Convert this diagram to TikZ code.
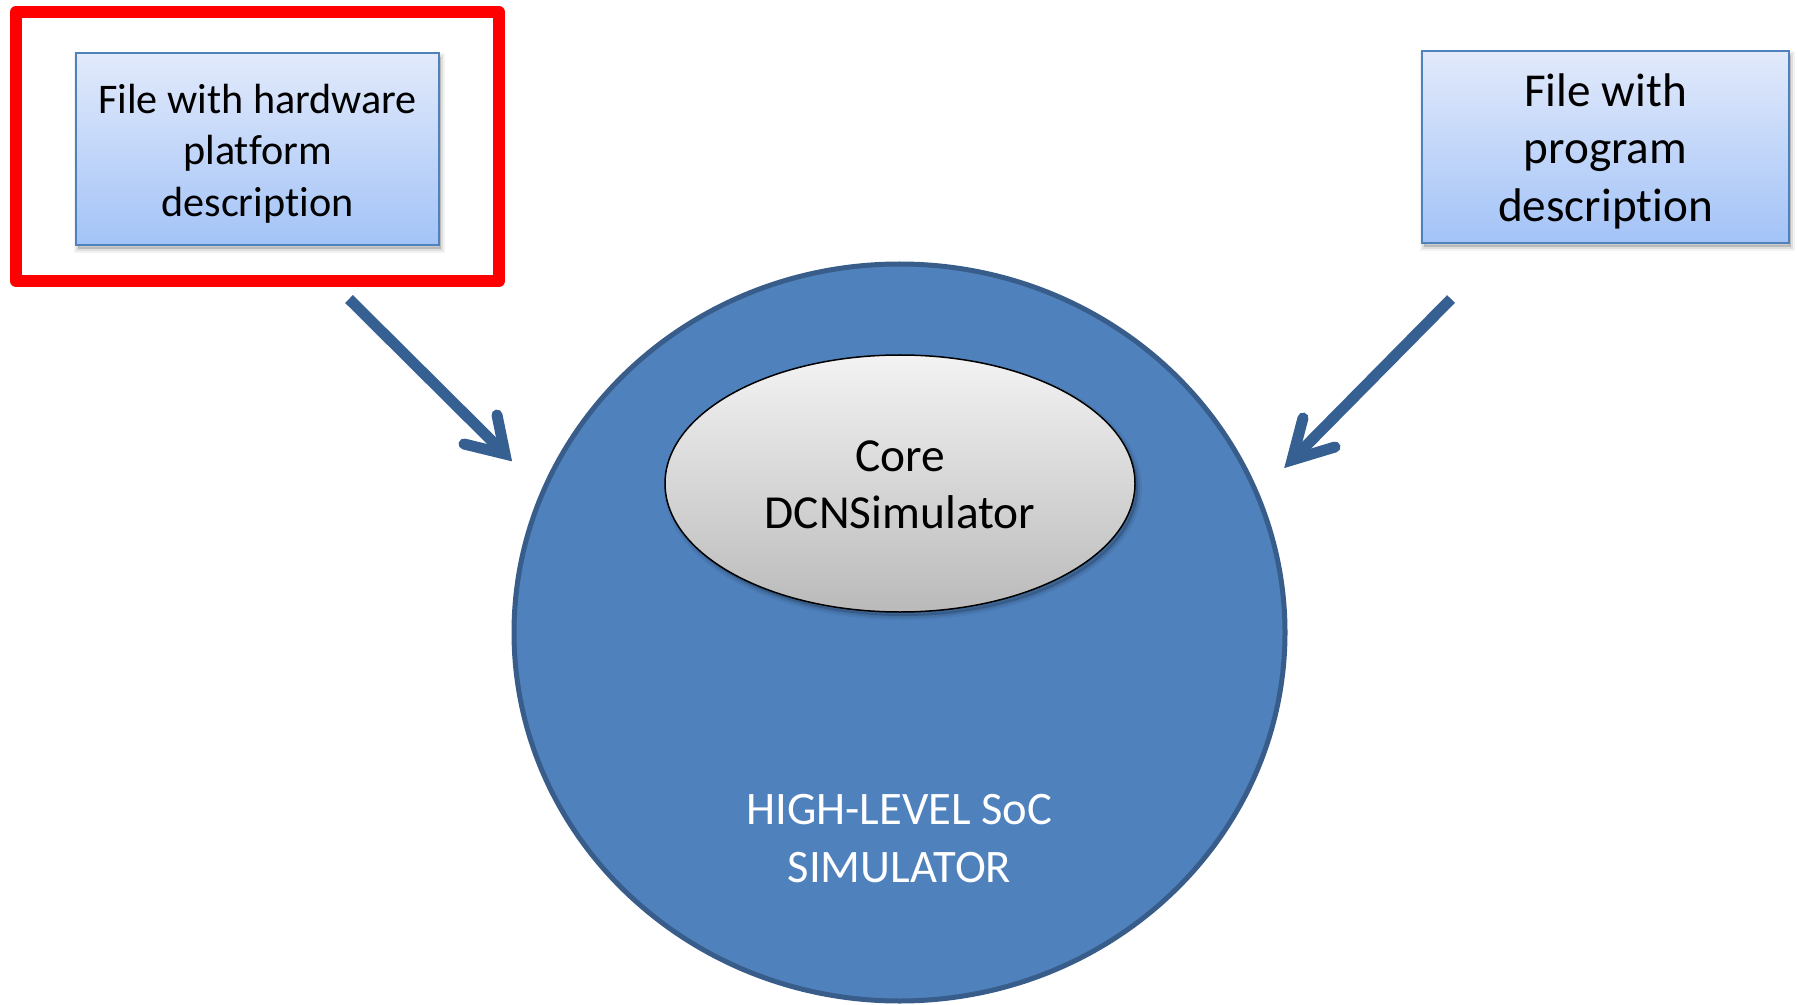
\documentclass[tikz,border=0pt]{standalone}
\usepackage{fontspec}
\setmainfont{Carlito}[Ligatures=NoCommon, Contextuals=NoAlternate]
\usetikzlibrary{shapes.geometric}

\definecolor{socfill}{RGB}{79,129,189}
\definecolor{socedge}{RGB}{56,93,138}
\definecolor{flowarrow}{RGB}{55,96,146}
\definecolor{filetop}{RGB}{226,234,251}
\definecolor{filebottom}{RGB}{163,195,247}
\definecolor{fileedge}{RGB}{79,129,189}
\definecolor{coretop}{RGB}{243,243,243}
\definecolor{corebottom}{RGB}{186,186,186}
\definecolor{markred}{RGB}{255,0,0}

\tikzset{
  % soft drop shadow built from a few translucent layers
  softshadow/.style 2 args={
    preaction={draw=black, draw opacity=0.05, line width=4pt,
      fill=black, fill opacity=0.05,
      transform canvas={xshift=#1, yshift=#2}},
    preaction={draw=black, draw opacity=0.08, line width=2pt,
      transform canvas={xshift=#1, yshift=#2}},
    preaction={fill=black, fill opacity=0.12,
      transform canvas={xshift=#1, yshift=#2}}
  },
  filebox/.style={rectangle, draw=fileedge, line width=1pt,
    top color=filetop, bottom color=filebottom,
    inner sep=0pt, outer sep=0pt,
    minimum height=96pt, softshadow={1pt}{-2pt}},
  filetext/.style={align=center, text=black, inner sep=0pt},
  socbody/.style={ellipse, draw=socedge, fill=socfill, line width=2.5pt,
    minimum width=385.5pt, minimum height=368.5pt, inner sep=0pt},
  corebox/.style={ellipse, draw=black, line width=0.75pt,
    top color=coretop, bottom color=corebottom,
    minimum width=235pt, minimum height=128.5pt, inner sep=0pt,
    softshadow={1.5pt}{-2pt}},
  coretext/.style={align=center, text=black, inner sep=0pt,
    font=\fontsize{23.7}{28.5}\selectfont},
  soclabel/.style={align=center, text=white, inner sep=0pt,
    font=\fontsize{23.3}{28.8}\selectfont},
  highlight/.style={rectangle, draw=markred, line width=6pt, line join=round,
    minimum width=241.5pt, minimum height=134.5pt, inner sep=0pt},
  flowshaft/.style={draw=flowarrow, line width=5.5pt, line cap=butt},
  flowhead/.style={draw=flowarrow, line width=5.5pt, line cap=round,
    line join=miter},
}

\begin{document}
\begin{tikzpicture}[x=0.5pt, y=-0.5pt]
  \useasboundingbox (0,0) rectangle (1798,1005);

  % simulator body with its core
  \node[socbody] (soc) at (899.5,632.5) {};
  \node[corebox] (core) at (900,483.5) {};
  \node[coretext] (coretxt) at (900,485) {Core\\DCNSimulator};
  \node[soclabel] (soctext) at (899.5,838.5) {HIGH-LEVEL SoC\\SIMULATOR};

  % input description files
  \node[highlight] (hwmark) at (257.5,146.5) {};
  \node[filebox, minimum width=181.5pt] (hwfile) at (257.5,149) {};
  \node[filetext, font=\fontsize{21.1}{25.75}\selectfont]
        (hwtext) at (257.5,153.5) {File with hardware\\platform\\description};
  \node[filebox, minimum width=183.5pt] (progfile) at (1605.5,147) {};
  \node[filetext, font=\fontsize{23.6}{28.75}\selectfont]
        (progtext) at (1605.5,151) {File with\\program\\description};

  % arrows feeding the simulator
  \coordinate (hwStart) at (349,299);
  \coordinate (hwTip) at (505,454);
  \coordinate (hwBarbA) at (497,415);
  \coordinate (hwBarbB) at (464,444);
  \draw[flowshaft] (hwStart) -- (hwTip);
  \draw[flowhead] (hwBarbA) -- (hwTip) -- (hwBarbB);

  \coordinate (progStart) at (1451,299);
  \coordinate (progTip) at (1292,460);
  \coordinate (progBarbA) at (1303,418);
  \coordinate (progBarbB) at (1335,447);
  \draw[flowshaft] (progStart) -- (progTip);
  \draw[flowhead] (progBarbA) -- (progTip) -- (progBarbB);
\end{tikzpicture}
\end{document}
